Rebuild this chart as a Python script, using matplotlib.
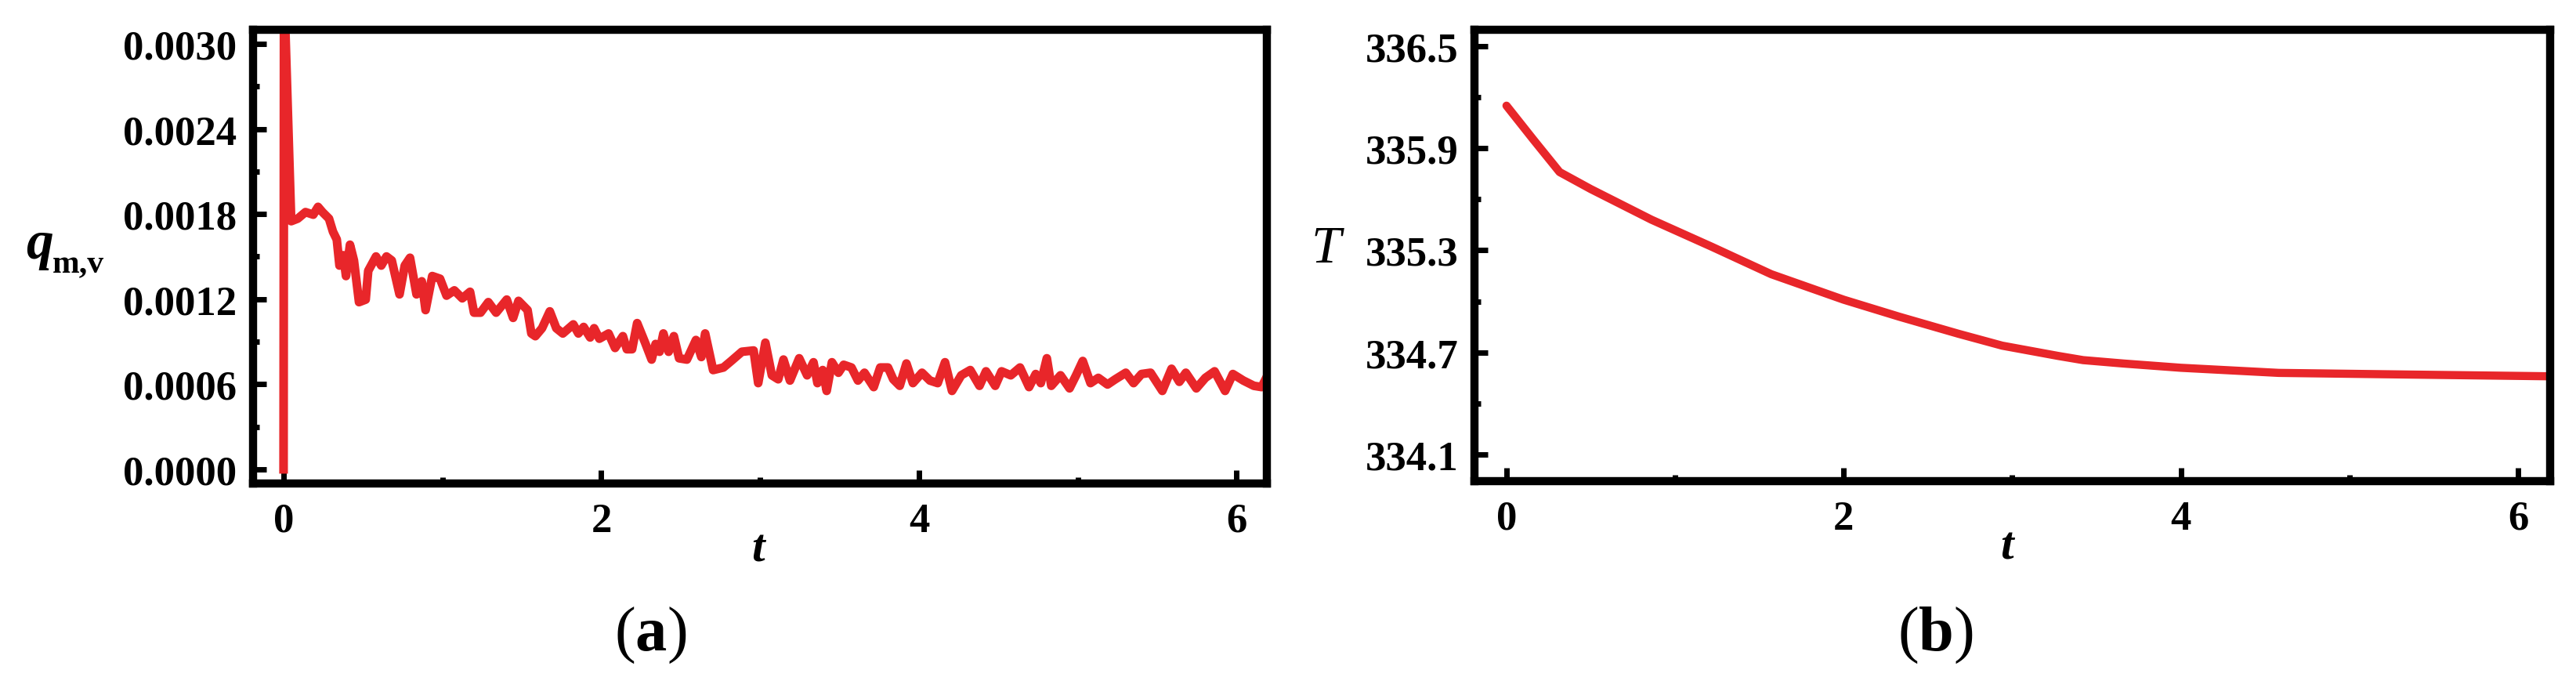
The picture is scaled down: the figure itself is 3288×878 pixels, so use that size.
import matplotlib
matplotlib.use("Agg")
import matplotlib.pyplot as plt

plt.rcParams["font.family"] = ["Liberation Serif", "DejaVu Serif"]
plt.rcParams["mathtext.fontset"] = "custom"
plt.rcParams["mathtext.rm"] = "Liberation Serif"
plt.rcParams["mathtext.bf"] = "Liberation Serif:bold"
plt.rcParams["mathtext.it"] = "Liberation Serif:italic"

# ---- panel (a): q_{m,v} versus t ----
t_q = [0.0, 0.003, 0.048, 0.089, 0.138, 0.187, 0.217, 0.245, 0.286, 0.311,
       0.335, 0.352, 0.376, 0.393, 0.418, 0.443, 0.475, 0.517, 0.533, 0.582,
       0.615, 0.648, 0.681, 0.730, 0.763, 0.796, 0.837, 0.870, 0.894, 0.936,
       0.985, 1.026, 1.075, 1.125, 1.174, 1.199, 1.240, 1.289, 1.338, 1.405,
       1.445, 1.479, 1.536, 1.560,
       1.585, 1.627, 1.676, 1.717, 1.758, 1.824, 1.856, 1.889, 1.930, 1.955,
       1.988, 2.046, 2.087, 2.136, 2.161, 2.194, 2.226, 2.276, 2.317, 2.342,
       2.367, 2.391, 2.424, 2.457, 2.490, 2.539, 2.596, 2.630, 2.654, 2.704,
       2.769, 2.818, 2.885, 2.959, 2.988, 3.033, 3.074, 3.114, 3.147,
       3.188, 3.246, 3.296, 3.336, 3.361, 3.394, 3.419, 3.452, 3.493, 3.526,
       3.575, 3.616, 3.657, 3.715, 3.756, 3.805, 3.838, 3.879, 3.921, 3.962,
       4.019, 4.069, 4.118, 4.164, 4.208, 4.266, 4.323, 4.381, 4.422, 4.480,
       4.520, 4.578, 4.636, 4.693, 4.735, 4.767,
       4.805, 4.833, 4.891, 4.948, 4.989, 5.031, 5.080, 5.129, 5.187, 5.236,
       5.302, 5.351, 5.401, 5.458, 5.532, 5.590, 5.639, 5.680, 5.746, 5.803,
       5.861, 5.927, 5.976, 6.042, 6.108, 6.157, 6.182]
q_mv = [0.0, 3.400, 1.750, 1.768, 1.814, 1.796, 1.851, 1.814, 1.768, 1.676,
        1.621, 1.437, 1.510, 1.363, 1.584, 1.473, 1.179, 1.197, 1.400, 1.501,
        1.437, 1.501, 1.473, 1.234, 1.437, 1.492, 1.234, 1.326, 1.123, 1.363,
        1.344, 1.225, 1.262, 1.206, 1.252, 1.105, 1.105, 1.179, 1.105, 1.197,
        1.068, 1.188, 1.123, 0.958,
        0.939, 0.995, 1.114, 0.995, 0.958, 1.022, 0.958, 1.004, 0.930, 0.995,
        0.921, 0.958, 0.856, 0.939, 0.847, 0.847, 1.031, 0.893, 0.774, 0.884,
        0.829, 0.958, 0.829, 0.939, 0.783, 0.774, 0.912, 0.792, 0.958, 0.700,
        0.718, 0.764, 0.829, 0.838, 0.608, 0.893, 0.663, 0.635, 0.774,
        0.626, 0.783, 0.663, 0.755, 0.608, 0.700, 0.553, 0.755, 0.681, 0.737,
        0.718, 0.626, 0.681, 0.580, 0.718, 0.718, 0.635, 0.589, 0.746, 0.608,
        0.681, 0.626, 0.608, 0.755, 0.553, 0.663, 0.700, 0.589, 0.691, 0.589,
        0.691, 0.663, 0.718, 0.580, 0.672, 0.608,
        0.783, 0.589, 0.663, 0.571, 0.663, 0.764, 0.608, 0.645, 0.598, 0.635,
        0.681, 0.608, 0.672, 0.681, 0.553, 0.709, 0.617, 0.681, 0.571, 0.645,
        0.691, 0.553, 0.672, 0.626, 0.589, 0.580, 0.635]
q_mv = [v * 1e-3 for v in q_mv]

# ---- panel (b): T versus t ----
t_T = [0.0, 0.16, 0.315, 0.50, 0.86, 1.22, 1.57, 2.0, 2.33, 2.68, 2.94,
       3.27, 3.42, 3.66, 4.0, 4.58, 5.37, 6.19]
T_vals = [336.15, 335.95, 335.76, 335.66, 335.48, 335.32, 335.16, 335.01,
          334.91, 334.81, 334.74, 334.68, 334.655, 334.635, 334.61, 334.58,
          334.57, 334.56]

x_ticks = [0, 2, 4, 6]
x_minor = [1, 3, 5]
q_ticks = [0.0, 0.0006, 0.0012, 0.0018, 0.0024, 0.0030]
q_ticklabels = ["0.0000", "0.0006", "0.0012", "0.0018", "0.0024", "0.0030"]
q_minor = [0.0003, 0.0009, 0.0015, 0.0021, 0.0027]
T_ticks = [334.1, 334.7, 335.3, 335.9, 336.5]
T_ticklabels = ["334.1", "334.7", "335.3", "335.9", "336.5"]
T_minor = [334.4, 335.0, 335.6, 336.2]

RED = "#e8262a"
TICK_FS = 38

fig = plt.figure(figsize=(32.88, 8.79), dpi=100)
ax_a = fig.add_axes([0.09824, 0.29693, 0.39355, 0.6587])
ax_b = fig.add_axes([0.57238, 0.30034, 0.41758, 0.65529])


def style_axes(ax):
    for sp in ax.spines.values():
        sp.set_linewidth(7.5)
        sp.set_capstyle("projecting")
    ax.tick_params(which="both", direction="in", top=False, right=False,
                   width=5, color="black")
    ax.tick_params(which="major", length=12.5)
    ax.tick_params(which="minor", length=6)
    ax.tick_params(axis="x", pad=17)
    ax.tick_params(axis="y", pad=15)
    for lab in ax.get_xticklabels() + ax.get_yticklabels():
        lab.set_fontsize(TICK_FS)
        lab.set_fontweight("bold")


ax_a.plot(t_q, q_mv, color=RED, lw=8, solid_joinstyle="round")
ax_a.set_xlim(-0.192, 6.19)
ax_a.set_ylim(-0.0001, 0.0031)
ax_a.set_xticks(x_ticks)
ax_a.set_xticks(x_minor, minor=True)
ax_a.set_yticks(q_ticks, q_ticklabels)
ax_a.set_yticks(q_minor, minor=True)
style_axes(ax_a)

ax_b.plot(t_T, T_vals, color=RED, lw=7.5, solid_capstyle="round",
          solid_joinstyle="round")
ax_b.set_xlim(-0.19, 6.19)
ax_b.set_ylim(333.944, 336.596)
ax_b.set_xticks(x_ticks)
ax_b.set_xticks(x_minor, minor=True)
ax_b.set_yticks(T_ticks, T_ticklabels)
ax_b.set_yticks(T_minor, minor=True)
style_axes(ax_b)

# axis labels
fig.text(0.0100, 0.6246, "q", fontsize=50, fontweight="bold",
         style="italic", ha="left", va="baseline")
fig.text(0.0203, 0.6041, "m,v", fontsize=30, fontweight="bold",
         ha="left", va="baseline")
fig.text(0.5146, 0.6189, "T", fontsize=49, style="italic",
         ha="center", va="baseline")
fig.text(0.2941, 0.1854, "t", fontsize=43, fontweight="bold",
         style="italic", ha="center", va="baseline")
fig.text(0.7789, 0.1888, "t", fontsize=43, fontweight="bold",
         style="italic", ha="center", va="baseline")

# panel captions
fig.text(0.2524, 0.0557, r"$(\mathbf{a})$", fontsize=58,
         ha="center", va="baseline")
fig.text(0.7512, 0.0557, r"$(\mathbf{b})$", fontsize=58,
         ha="center", va="baseline")

fig.savefig("out.png", dpi=100)
